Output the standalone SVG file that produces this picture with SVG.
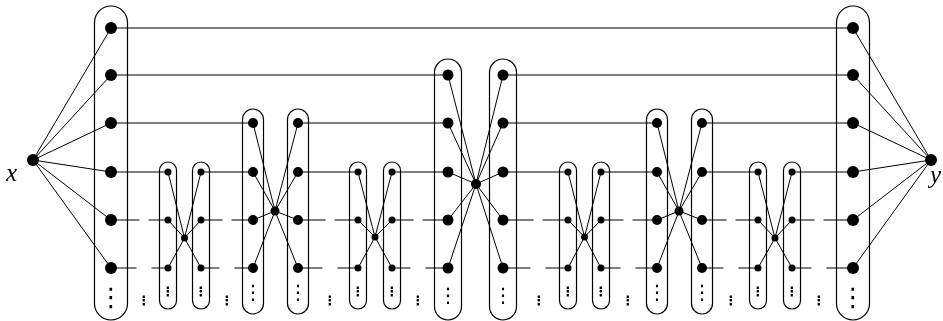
<svg xmlns="http://www.w3.org/2000/svg" width="943" height="321" viewBox="0 0 943 321">
<defs>
<filter id="gray" x="-50%" y="-50%" width="200%" height="200%"><feOffset dx="0" dy="0"/></filter>
</defs>
<style>
.col{fill:none;stroke:#000;stroke-width:1.2}
.ln{stroke:#000;stroke-width:1;fill:none}
.nd{fill:#000}
.lbl{font-family:"Liberation Serif",serif;font-style:italic;font-size:25px;fill:#000;filter:url(#gray)}
.vd{font-family:"DejaVu Sans",sans-serif;fill:#000;text-anchor:middle;filter:url(#gray)}
.vl{font-size:26px}
.vm{font-size:20px}
.vs{font-size:13px;font-weight:bold}
</style>
<rect width="943" height="321" fill="#fff"/>
<g id="connectors" class="ln">
<path d="M33,160L111,28M33,160L111,75M33,160L111,123M33,160L111,172M33,160L111,220M33,160L111,268"/>
<path d="M931,160L853,28M931,160L853,75M931,160L853,123M931,160L853,172M931,160L853,220M931,160L853,268"/>
<path d="M111,28H853"/>
<path d="M111,75H448M503,75H853"/>
<path d="M111,123H253M298,123H448M503,123H657M702,123H853"/>
<path d="M111,172H168M201,172H253M298,172H358M392,172H448M503,172H568M601,172H657M702,172H758M792,172H853"/>
<path d="M111,220H139.5M148.5,220H168M201,220H222.5M231.5,220H253M298,220H325.5M334.5,220H358M392,220H413.5M422.5,220H448M503,220H533.5M542.5,220H568M601,220H623.5M632.5,220H657M702,220H726.5M735.5,220H758M792,220H814.5M823.5,220H853"/>
<path d="M111,268H136.5M151.5,268H168M201,268H219.5M234.5,268H253M298,268H322.5M337.5,268H358M392,268H410.5M425.5,268H448M503,268H530.5M545.5,268H568M601,268H620.5M635.5,268H657M702,268H723.5M738.5,268H758M792,268H811.5M826.5,268H853"/>
<path d="M168,172L184.5,238M168,220L184.5,238M168,268L184.5,238M201,172L184.5,238M201,220L184.5,238M201,268L184.5,238"/>
<path d="M253,123L275,211M253,172L275,211M253,220L275,211M253,268L275,211M298,123L275,211M298,172L275,211M298,220L275,211M298,268L275,211"/>
<path d="M358,172L375,237M358,220L375,237M358,268L375,237M392,172L375,237M392,220L375,237M392,268L375,237"/>
<path d="M448,75L476,184M448,123L476,184M448,172L476,184M448,220L476,184M448,268L476,184M503,75L476,184M503,123L476,184M503,172L476,184M503,220L476,184M503,268L476,184"/>
<path d="M568,172L584.5,237M568,220L584.5,237M568,268L584.5,237M601,172L584.5,237M601,220L584.5,237M601,268L584.5,237"/>
<path d="M657,123L679,211M657,172L679,211M657,220L679,211M657,268L679,211M702,123L679,211M702,172L679,211M702,220L679,211M702,268L679,211"/>
<path d="M758,172L775,238M758,220L775,238M758,268L775,238M792,172L775,238M792,220L775,238M792,268L775,238"/>
</g>
<g id="node-x"><circle class="nd" cx="33" cy="160" r="6"/><text class="lbl" x="6" y="181">x</text></g>
<g id="node-y"><circle class="nd" cx="931" cy="160" r="6"/><text class="lbl" x="930" y="183">y</text></g>
<g id="col-L"><rect class="col" x="94.5" y="6" width="33" height="314" rx="16.5"/>
<circle class="nd" cx="111" cy="28" r="6"/><circle class="nd" cx="111" cy="75" r="6"/><circle class="nd" cx="111" cy="123" r="6"/><circle class="nd" cx="111" cy="172" r="6"/><circle class="nd" cx="111" cy="220" r="6"/><circle class="nd" cx="111" cy="268" r="6"/>
<text class="vd vl" x="111" y="306">⋮</text></g>
<g id="col-R"><rect class="col" x="836.5" y="6" width="33" height="314" rx="16.5"/>
<circle class="nd" cx="853" cy="28" r="6"/><circle class="nd" cx="853" cy="75" r="6"/><circle class="nd" cx="853" cy="123" r="6"/><circle class="nd" cx="853" cy="172" r="6"/><circle class="nd" cx="853" cy="220" r="6"/><circle class="nd" cx="853" cy="268" r="6"/>
<text class="vd vl" x="853" y="306">⋮</text></g>
<g id="col-1"><rect class="col" x="159.5" y="162" width="17" height="147" rx="8.5"/>
<circle class="nd" cx="168" cy="172" r="3.5"/><circle class="nd" cx="168" cy="220" r="3.5"/><circle class="nd" cx="168" cy="268" r="3.5"/><text class="vd vs" x="168" y="296">⋮</text></g>
<g id="col-2"><rect class="col" x="192.5" y="162" width="17" height="147" rx="8.5"/>
<circle class="nd" cx="201" cy="172" r="3.5"/><circle class="nd" cx="201" cy="220" r="3.5"/><circle class="nd" cx="201" cy="268" r="3.5"/><text class="vd vs" x="201" y="296">⋮</text></g>
<g id="hub-1"><circle class="nd" cx="184.5" cy="238" r="3.5"/></g>
<g id="col-3"><rect class="col" x="242.5" y="109" width="21" height="205" rx="10.5"/>
<circle class="nd" cx="253" cy="123" r="5"/><circle class="nd" cx="253" cy="172" r="5"/><circle class="nd" cx="253" cy="220" r="5"/><circle class="nd" cx="253" cy="268" r="5"/><text class="vd vm" x="253" y="299">⋮</text></g>
<g id="col-4"><rect class="col" x="287.5" y="109" width="21" height="205" rx="10.5"/>
<circle class="nd" cx="298" cy="123" r="5"/><circle class="nd" cx="298" cy="172" r="5"/><circle class="nd" cx="298" cy="220" r="5"/><circle class="nd" cx="298" cy="268" r="5"/><text class="vd vm" x="298" y="299">⋮</text></g>
<g id="hub-2"><circle class="nd" cx="275" cy="211" r="4.5"/></g>
<g id="col-5"><rect class="col" x="349.5" y="162" width="17" height="147" rx="8.5"/>
<circle class="nd" cx="358" cy="172" r="3.5"/><circle class="nd" cx="358" cy="220" r="3.5"/><circle class="nd" cx="358" cy="268" r="3.5"/><text class="vd vs" x="358" y="296">⋮</text></g>
<g id="col-6"><rect class="col" x="383.5" y="162" width="17" height="147" rx="8.5"/>
<circle class="nd" cx="392" cy="172" r="3.5"/><circle class="nd" cx="392" cy="220" r="3.5"/><circle class="nd" cx="392" cy="268" r="3.5"/><text class="vd vs" x="392" y="296">⋮</text></g>
<g id="hub-3"><circle class="nd" cx="375" cy="237" r="3.5"/></g>
<g id="col-7"><rect class="col" x="434.5" y="59" width="27" height="261" rx="13.5"/>
<circle class="nd" cx="448" cy="75" r="5.5"/><circle class="nd" cx="448" cy="123" r="5.5"/><circle class="nd" cx="448" cy="172" r="5.5"/><circle class="nd" cx="448" cy="220" r="5.5"/><circle class="nd" cx="448" cy="268" r="5.5"/><text class="vd vm" x="448" y="302">⋮</text></g>
<g id="col-8"><rect class="col" x="489.5" y="59" width="27" height="261" rx="13.5"/>
<circle class="nd" cx="503" cy="75" r="5.5"/><circle class="nd" cx="503" cy="123" r="5.5"/><circle class="nd" cx="503" cy="172" r="5.5"/><circle class="nd" cx="503" cy="220" r="5.5"/><circle class="nd" cx="503" cy="268" r="5.5"/><text class="vd vm" x="503" y="302">⋮</text></g>
<g id="hub-4"><circle class="nd" cx="476" cy="184" r="5"/></g>
<g id="col-9"><rect class="col" x="559.5" y="162" width="17" height="147" rx="8.5"/>
<circle class="nd" cx="568" cy="172" r="3.5"/><circle class="nd" cx="568" cy="220" r="3.5"/><circle class="nd" cx="568" cy="268" r="3.5"/><text class="vd vs" x="568" y="296">⋮</text></g>
<g id="col-10"><rect class="col" x="592.5" y="162" width="17" height="147" rx="8.5"/>
<circle class="nd" cx="601" cy="172" r="3.5"/><circle class="nd" cx="601" cy="220" r="3.5"/><circle class="nd" cx="601" cy="268" r="3.5"/><text class="vd vs" x="601" y="296">⋮</text></g>
<g id="hub-5"><circle class="nd" cx="584.5" cy="237" r="3.5"/></g>
<g id="col-11"><rect class="col" x="646.5" y="109" width="21" height="205" rx="10.5"/>
<circle class="nd" cx="657" cy="123" r="5"/><circle class="nd" cx="657" cy="172" r="5"/><circle class="nd" cx="657" cy="220" r="5"/><circle class="nd" cx="657" cy="268" r="5"/><text class="vd vm" x="657" y="299">⋮</text></g>
<g id="col-12"><rect class="col" x="691.5" y="109" width="21" height="205" rx="10.5"/>
<circle class="nd" cx="702" cy="123" r="5"/><circle class="nd" cx="702" cy="172" r="5"/><circle class="nd" cx="702" cy="220" r="5"/><circle class="nd" cx="702" cy="268" r="5"/><text class="vd vm" x="702" y="299">⋮</text></g>
<g id="hub-6"><circle class="nd" cx="679" cy="211" r="4.5"/></g>
<g id="col-13"><rect class="col" x="749.5" y="162" width="17" height="147" rx="8.5"/>
<circle class="nd" cx="758" cy="172" r="3.5"/><circle class="nd" cx="758" cy="220" r="3.5"/><circle class="nd" cx="758" cy="268" r="3.5"/><text class="vd vs" x="758" y="296">⋮</text></g>
<g id="col-14"><rect class="col" x="783.5" y="162" width="17" height="147" rx="8.5"/>
<circle class="nd" cx="792" cy="172" r="3.5"/><circle class="nd" cx="792" cy="220" r="3.5"/><circle class="nd" cx="792" cy="268" r="3.5"/><text class="vd vs" x="792" y="296">⋮</text></g>
<g id="hub-7"><circle class="nd" cx="775" cy="238" r="3.5"/></g>
<g id="gaps">
<text class="vd vs" x="144" y="305">⋮</text><text class="vd vs" x="227" y="305">⋮</text><text class="vd vs" x="330" y="305">⋮</text><text class="vd vs" x="418" y="305">⋮</text><text class="vd vs" x="539" y="305">⋮</text><text class="vd vs" x="628" y="305">⋮</text><text class="vd vs" x="731" y="305">⋮</text><text class="vd vs" x="819" y="305">⋮</text>
</g>
</svg>
